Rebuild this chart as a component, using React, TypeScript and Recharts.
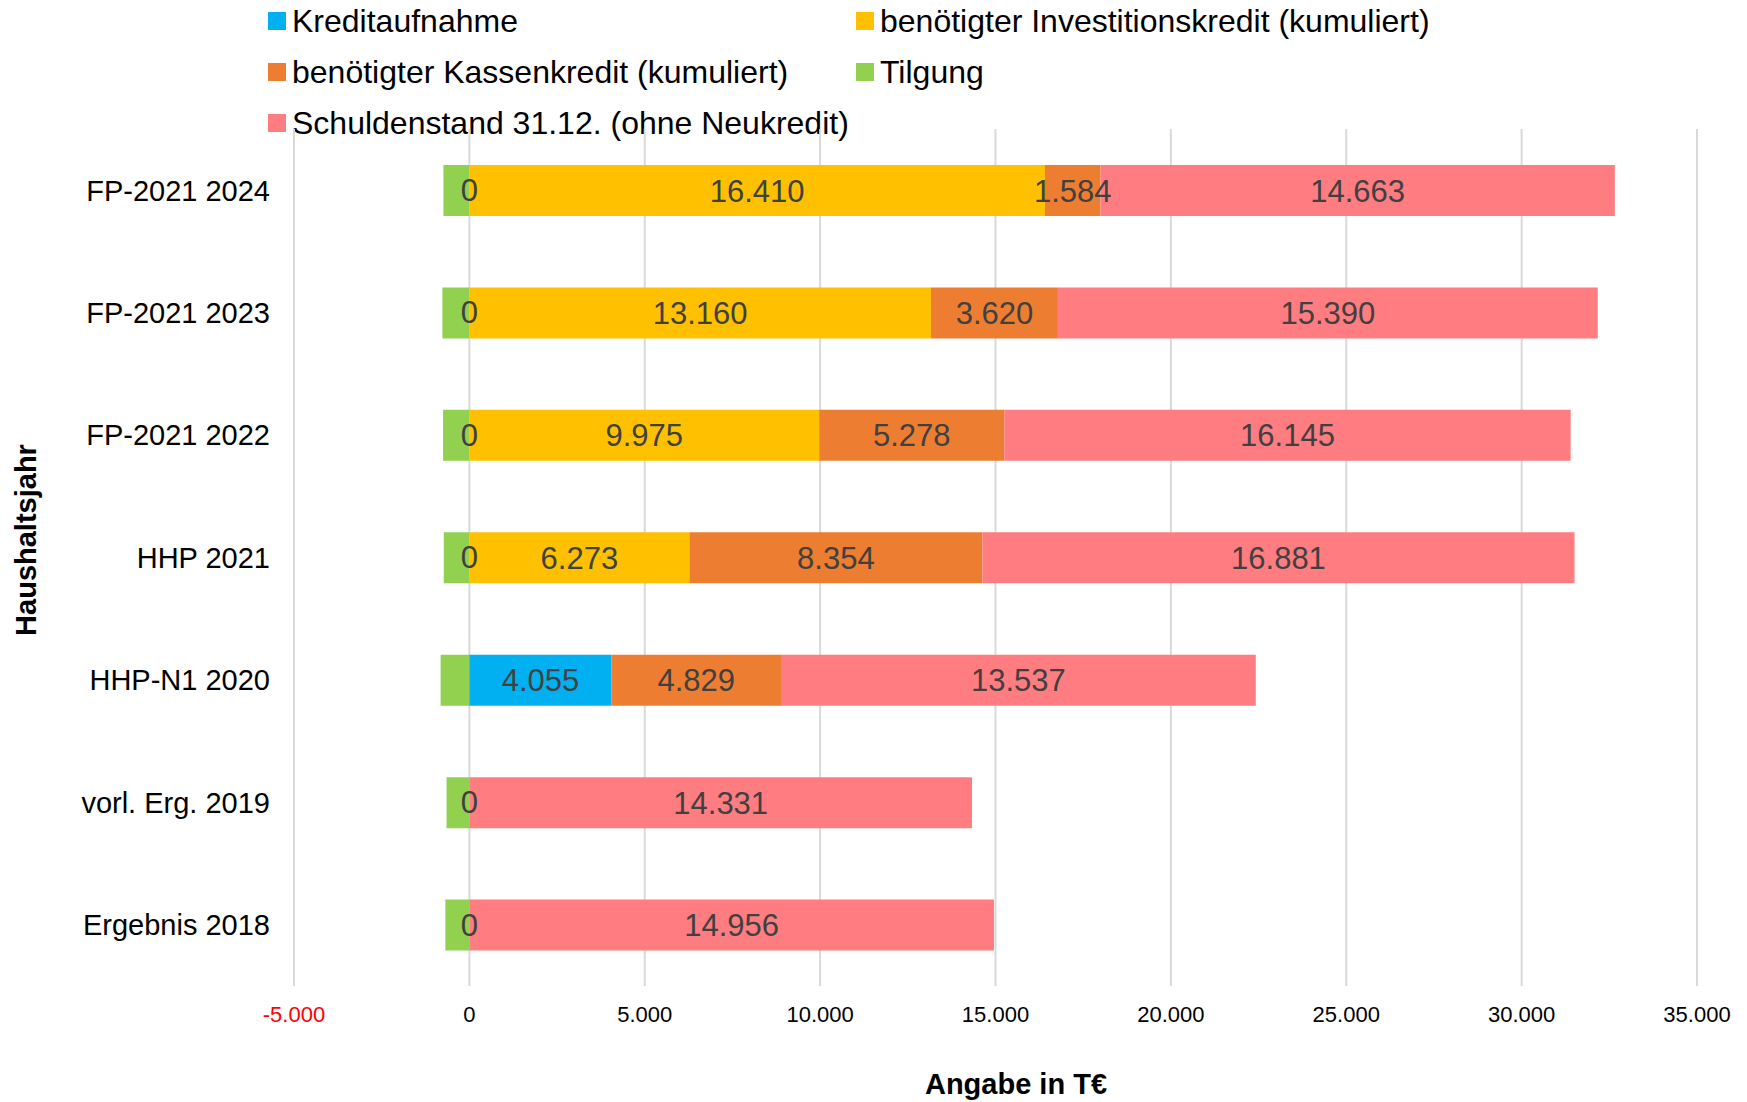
import { Bar, BarChart, CartesianGrid, LabelList, XAxis, YAxis } from 'recharts';

const years = [
  'FP-2021 2024',
  'FP-2021 2023',
  'FP-2021 2022',
  'HHP 2021',
  'HHP-N1 2020',
  'vorl. Erg. 2019',
  'Ergebnis 2018',
];
const kreditaufnahme = [0, 0, 0, 0, 4055, 0, 0];
const investitionskredit = [16410, 13160, 9975, 6273, null, null, null];
const kassenkredit = [1584, 3620, 5278, 8354, 4829, null, null];
const tilgung = [-740, -770, -750, -730, -820, -650, -685];
const schuldenstand = [14663, 15390, 16145, 16881, 13537, 14331, 14956];
const xTicks = [-5000, 0, 5000, 10000, 15000, 20000, 25000, 30000, 35000];

const data = years.map((year, i) => ({
  year,
  kredit: kreditaufnahme[i],
  invest: investitionskredit[i],
  kassen: kassenkredit[i],
  tilgung: tilgung[i],
  schulden: schuldenstand[i],
}));

const FONT = '"Liberation Sans", Arial, sans-serif';

// 16410 -> "16.410"
function de(v: number) {
  const s = String(Math.abs(Math.round(v)));
  const out = s.replace(/\B(?=(\d{3})+(?!\d))/g, '.');
  return v < 0 ? '-' + out : out;
}

const legendItems = [
  { name: 'Kreditaufnahme', color: '#00B0F0', x: 268, y: 21 },
  { name: 'benötigter Investitionskredit (kumuliert)', color: '#FFC000', x: 856, y: 21 },
  { name: 'benötigter Kassenkredit (kumuliert)', color: '#ED7D31', x: 268, y: 72 },
  { name: 'Tilgung', color: '#92D050', x: 856, y: 72 },
  { name: 'Schuldenstand 31.12. (ohne Neukredit)', color: '#FF7C80', x: 268, y: 123 },
];

function XTick({ x, y, payload }: any) {
  return (
    <text
      x={x}
      y={y}
      dy={28}
      textAnchor="middle"
      fontSize={22}
      fontFamily={FONT}
      fill={payload.value < 0 ? '#FF0000' : '#000'}
    >
      {de(payload.value)}
    </text>
  );
}

const labelProps = {
  position: 'center' as const,
  fill: '#404040',
  fontSize: 31,
  fontFamily: FONT,
  formatter: (v: any) => (v == null || v === 0 ? '' : de(Number(v))),
};

// zero-width Kreditaufnahme: draw its "0" at the zero line (right end of the Tilgung bar)
function ZeroLabel({ x, y, width, height, value }: any) {
  if (value !== 0) return null;
  const zx = Math.max(Number(x), Number(x) + Number(width));
  return (
    <text
      x={zx}
      y={Number(y) + Number(height) / 2}
      textAnchor="middle"
      dominantBaseline="central"
      fill="#404040"
      fontSize={31}
      fontFamily={FONT}
    >
      0
    </text>
  );
}

export default function App() {
  return (
    <div style={{ position: 'absolute', left: 0, top: 0, width: 1747, height: 1102, background: '#fff', fontFamily: FONT }}>
      {legendItems.map((it) => (
        <div
          key={it.name}
          style={{ position: 'absolute', left: it.x, top: it.y - 20, height: 40, display: 'flex', alignItems: 'center', whiteSpace: 'nowrap' }}
        >
          <div style={{ width: 18, height: 18, background: it.color, marginRight: 6 }} />
          <span style={{ fontSize: 32, color: '#000' }}>{it.name}</span>
        </div>
      ))}
      <div
        style={{
          position: 'absolute',
          left: 26,
          top: 540,
          transform: 'translate(-50%, -50%) rotate(-90deg)',
          fontSize: 29,
          fontWeight: 'bold',
          whiteSpace: 'nowrap',
        }}
      >
        Haushaltsjahr
      </div>
      <div
        style={{
          position: 'absolute',
          left: 1016,
          top: 1084,
          transform: 'translate(-50%, -50%)',
          fontSize: 29,
          fontWeight: 'bold',
          whiteSpace: 'nowrap',
        }}
      >
        Angabe in T€
      </div>
      <BarChart
        width={1747}
        height={1102}
        data={data}
        layout="vertical"
        stackOffset="sign"
        margin={{ top: 129, right: 50, bottom: 56, left: 94 }}
        barSize={51}
      >
        <CartesianGrid horizontal={false} stroke="#D9D9D9" strokeWidth={2} />
        <XAxis
          type="number"
          domain={[-5000, 35000]}
          ticks={xTicks}
          axisLine={false}
          tickLine={false}
          tick={<XTick />}
          height={60}
          allowDataOverflow
        />
        <YAxis
          type="category"
          dataKey="year"
          width={200}
          axisLine={false}
          tickLine={false}
          tickMargin={18}
          tick={{ fontSize: 29, fill: '#000', fontFamily: FONT }}
        />
        <Bar dataKey="tilgung" stackId="a" fill="#92D050" isAnimationActive={false}>
          <LabelList dataKey="kredit" content={<ZeroLabel />} />
        </Bar>
        <Bar dataKey="kredit" stackId="a" fill="#00B0F0" isAnimationActive={false}>
          <LabelList dataKey="kredit" {...labelProps} />
        </Bar>
        <Bar dataKey="invest" stackId="a" fill="#FFC000" isAnimationActive={false}>
          <LabelList dataKey="invest" {...labelProps} />
        </Bar>
        <Bar dataKey="kassen" stackId="a" fill="#ED7D31" isAnimationActive={false}>
          <LabelList dataKey="kassen" {...labelProps} />
        </Bar>
        <Bar dataKey="schulden" stackId="a" fill="#FF7C80" isAnimationActive={false}>
          <LabelList dataKey="schulden" {...labelProps} />
        </Bar>
      </BarChart>
    </div>
  );
}
